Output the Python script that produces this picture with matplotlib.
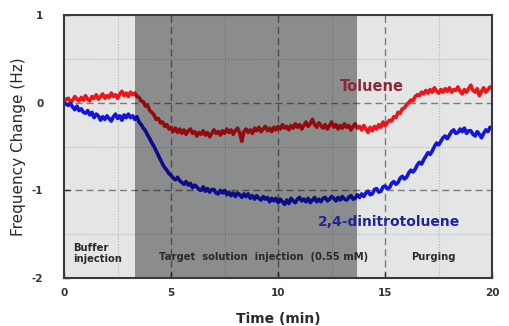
import numpy as np
import matplotlib
matplotlib.use("Agg")
import matplotlib.pyplot as plt

# ---- data ----
time_min = np.round(np.arange(0, 20.0001, 0.1), 1)

toluene = [
    0.02, 0.04, 0.05, 0.00, 0.03, 0.07, 0.04, 0.02, 0.06, 0.03,
    0.08, 0.04, 0.02, 0.07, 0.05, 0.09, 0.04, 0.07, 0.10, 0.05,
    0.08, 0.06, 0.11, 0.07, 0.09, 0.05, 0.10, 0.13, 0.08, 0.11,
    0.07, 0.12, 0.09, 0.11, 0.07, 0.06, 0.02, 0.01, -0.04, -0.03,
    -0.09, -0.11, -0.14, -0.19, -0.18, -0.23, -0.22, -0.27, -0.25, -0.30,
    -0.28, -0.33, -0.29, -0.34, -0.30, -0.35, -0.31, -0.36, -0.32, -0.30,
    -0.35, -0.33, -0.38, -0.34, -0.36, -0.32, -0.37, -0.34, -0.39, -0.35,
    -0.31, -0.35, -0.33, -0.37, -0.32, -0.35, -0.30, -0.34, -0.31, -0.36,
    -0.32, -0.29, -0.34, -0.44, -0.33, -0.30, -0.34, -0.31, -0.35, -0.29,
    -0.32, -0.28, -0.33, -0.30, -0.27, -0.32, -0.29, -0.33, -0.28, -0.31,
    -0.27, -0.30, -0.25, -0.29, -0.27, -0.31, -0.26, -0.29, -0.24, -0.28,
    -0.25, -0.30, -0.26, -0.22, -0.27, -0.24, -0.19, -0.25, -0.28, -0.23,
    -0.26, -0.29, -0.25, -0.30, -0.26, -0.22, -0.28, -0.25, -0.30, -0.26,
    -0.29, -0.24, -0.28, -0.26, -0.31, -0.27, -0.24, -0.29, -0.27, -0.31,
    -0.26, -0.30, -0.34, -0.28, -0.32, -0.27, -0.30, -0.25, -0.28, -0.22,
    -0.26, -0.23, -0.20, -0.21, -0.16, -0.17, -0.11, -0.12, -0.07, -0.06,
    -0.02, 0.00, 0.03, 0.02, 0.07, 0.09, 0.08, 0.12, 0.10, 0.14,
    0.11, 0.15, 0.12, 0.17, 0.13, 0.11, 0.15, 0.12, 0.16, 0.13,
    0.17, 0.12, 0.15, 0.14, 0.18, 0.13, 0.10, 0.15, 0.12, 0.16,
    0.20, 0.14, 0.12, 0.16, 0.08, 0.13, 0.17, 0.12, 0.15, 0.18,
    0.16]

dnt = [
    0.00, -0.02, -0.03, -0.01, -0.05, -0.08, -0.04, -0.09, -0.07, -0.11,
    -0.12, -0.09, -0.14, -0.11, -0.17, -0.13, -0.15, -0.20, -0.16, -0.19,
    -0.15, -0.18, -0.21, -0.16, -0.13, -0.18, -0.15, -0.20, -0.14, -0.17,
    -0.13, -0.17, -0.15, -0.19, -0.16, -0.22, -0.25, -0.29, -0.32, -0.37,
    -0.41, -0.46, -0.50, -0.55, -0.60, -0.65, -0.70, -0.74, -0.77, -0.81,
    -0.83, -0.86, -0.88, -0.85, -0.89, -0.91, -0.93, -0.90, -0.94, -0.92,
    -0.97, -0.94, -0.96, -0.99, -1.00, -0.96, -1.01, -0.98, -1.02, -0.99,
    -0.99, -1.03, -1.04, -1.00, -1.03, -1.00, -1.05, -1.02, -1.06, -1.03,
    -1.07, -1.03, -1.05, -1.08, -1.04, -1.07, -1.04, -1.09, -1.06, -1.10,
    -1.06, -1.09, -1.11, -1.07, -1.10, -1.08, -1.13, -1.09, -1.12, -1.09,
    -1.14, -1.10, -1.13, -1.16, -1.11, -1.15, -1.09, -1.12, -1.14, -1.10,
    -1.08, -1.12, -1.10, -1.13, -1.09, -1.14, -1.11, -1.08, -1.13, -1.10,
    -1.13, -1.09, -1.08, -1.12, -1.10, -1.07, -1.09, -1.12, -1.08, -1.11,
    -1.07, -1.10, -1.11, -1.08, -1.06, -1.10, -1.09, -1.05, -1.08, -1.04,
    -1.07, -1.03, -1.01, -1.05, -1.04, -0.99, -0.98, -1.02, -1.01, -0.96,
    -0.95, -0.98, -0.97, -0.92, -0.90, -0.93, -0.91, -0.86, -0.84, -0.87,
    -0.85, -0.80, -0.77, -0.79, -0.76, -0.71, -0.68, -0.70, -0.65, -0.61,
    -0.57, -0.59, -0.55, -0.50, -0.46, -0.48, -0.44, -0.40, -0.38, -0.41,
    -0.37, -0.33, -0.31, -0.35, -0.34, -0.30, -0.33, -0.29, -0.35, -0.32,
    -0.32, -0.36, -0.38, -0.33, -0.36, -0.40, -0.35, -0.31, -0.33, -0.28,
    -0.30]

injection_start = 3.3
injection_end = 13.7
x_ticks = [0, 5, 10, 15, 20]
y_ticks = [-2, -1, 0, 1]

# ---- figure ----
fig = plt.figure(figsize=(5.09, 3.26), dpi=100)
ax = fig.add_axes([0.126, 0.147, 0.841, 0.807])
ax.set_facecolor('#e4e6e6')

ax.set_xlim(0, 20)
ax.set_ylim(-2, 1)

# grid
for x in [5, 10, 15]:
    ax.axvline(x, color='#7a7c7c', ls=(0, (5, 3)), lw=1.0, zorder=1)
for y in [0, -1]:
    ax.axhline(y, color='#7a7c7c', ls=(0, (5, 3)), lw=1.0, zorder=1)
for x in [2.5, 7.5, 12.5, 17.5]:
    ax.axvline(x, color='#b4b6b6', ls=(0, (1, 1.5)), lw=0.8, zorder=1)
for y in [0.5, -0.5, -1.5]:
    ax.axhline(y, color='#b4b6b6', ls=(0, (1, 1.5)), lw=0.8, zorder=1)

ax.plot(time_min, toluene, color='#f01418', lw=2.6, zorder=3)
ax.plot(time_min, dnt, color='#1414e0', lw=2.6, zorder=3)

# injection shading on top of lines
ax.axvspan(injection_start, injection_end, color='#000000', alpha=0.39, lw=0, zorder=4)

ax.text(14.4, 0.18, 'Toluene', color='#8e2838', fontsize=10.5, fontweight='bold',
        ha='center', va='center', zorder=5)
ax.text(15.2, -1.36, '2,4-dinitrotoluene', color='#22229a', fontsize=10, fontweight='bold',
        ha='center', va='center', zorder=5)

ax.text(0.42, -1.72, 'Buffer\ninjection', color='#2a2a2a', fontsize=7.2, fontweight='bold',
        ha='left', va='center', linespacing=1.1, zorder=5)
ax.text(9.3, -1.76, 'Target  solution  injection  (0.55 mM)', color='#2a2a2a', fontsize=7.2,
        fontweight='bold', ha='center', va='center', zorder=5)
ax.text(17.25, -1.76, 'Purging', color='#2a2a2a', fontsize=7.2, fontweight='bold',
        ha='center', va='center', zorder=5)

ax.set_xticks(x_ticks)
ax.set_yticks(y_ticks)
ax.set_xticklabels([str(v) for v in x_ticks], fontsize=7.5, fontweight='bold', color='#333333')
ax.set_yticklabels([str(v) for v in y_ticks], fontsize=7.5, fontweight='bold', color='#333333')
ax.tick_params(direction='in', length=4, width=1, color='#333333')
ax.tick_params(axis='x', pad=7)
ax.tick_params(axis='y', pad=15)

for s in ax.spines.values():
    s.set_color('#3a3a3a')
    s.set_linewidth(1.5)
    s.set_zorder(6)

ax.set_xlabel('Time (min)', fontsize=10, fontweight='bold', color='#2a2a2a')
ax.set_ylabel('Frequency Change (Hz)', fontsize=11, color='#2a2a2a')
ax.xaxis.set_label_coords(0.5, -0.13)
ax.yaxis.set_label_coords(-0.09, 0.5)

fig.savefig('out.png', dpi=100)
